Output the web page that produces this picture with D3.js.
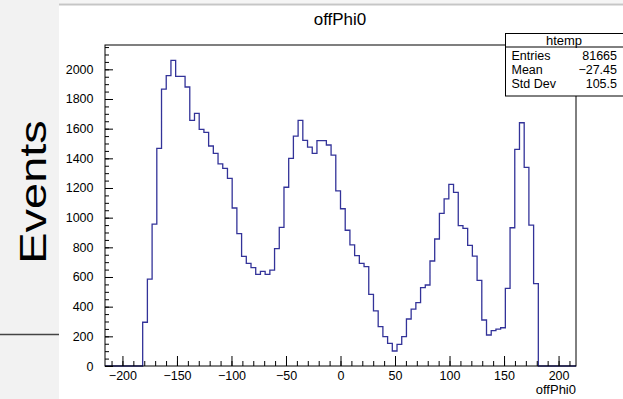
<!DOCTYPE html>
<html>
<head>
<meta charset="utf-8">
<script src="https://cdn.jsdelivr.net/npm/d3@7"></script>
<style>
  html, body { margin: 0; padding: 0; background: #fff; }
  svg { display: block; font-family: "Liberation Sans", Arial, Helvetica, sans-serif; }
</style>
</head>
<body>
<div id="chart"></div>
<script>
// histogram htemp : 100 bins over [-216, 216]
const histRange = [-216, 216];
const nBins = 100;
const counts = [
  0, 0, 0, 0, 0, 0, 0, 0,
  295, 586, 957, 1467, 1867, 1957, 2060, 1953, 1953, 1881,
  1656, 1703, 1595, 1575, 1483, 1434, 1362, 1332, 1265, 1065,
  892, 739, 692, 663, 618, 638, 618, 647, 791, 935,
  1205, 1400, 1550, 1656, 1521, 1476, 1434, 1519, 1519, 1490,
  1422, 1180, 1060, 915, 816, 744, 692, 670, 483, 371,
  265, 198, 153, 101, 146, 198, 317, 384, 427, 528,
  546, 708, 856, 1029, 1126, 1225, 1171, 946, 928, 813,
  741, 577, 310, 209, 238, 249, 258, 523, 932, 1461,
  1640, 1339, 950, 555,
  0, 0, 0, 0, 0, 0, 0, 0
];
const yMax = 2164;
const xMajorTicks = [-200, -150, -100, -50, 0, 50, 100, 150, 200];
const xMinorTicks = d3.range(-210, 211, 10);
const yMajorTicks = [0, 200, 400, 600, 800, 1000, 1200, 1400, 1600, 1800, 2000];
const yMinorTicks = d3.range(0, 2151, 50);
const statsLabels = ['Entries', 'Mean', 'Std Dev'];
const statsValues = ['81665', '\u221227.45', '105.5'];

const width = 623;
const height = 399;
const frame = { left: 105, right: 576, top: 45, bottom: 366 };
const lineColor = '#333399';
const fmt = d => (d < 0 ? '\u2212' + Math.abs(d) : String(d));

const svg = d3.select('#chart').append('svg')
  .attr('width', width)
  .attr('height', height);

// canvas background bits
svg.append('rect').attr('x', 0).attr('y', 0).attr('width', 59).attr('height', height).attr('fill', '#f2f2f2');
svg.append('rect').attr('x', 59).attr('y', 0).attr('width', width - 59).attr('height', 3.5).attr('fill', '#f5f5f5');
svg.append('line').attr('x1', 59).attr('x2', width).attr('y1', 4.5).attr('y2', 4.5)
  .attr('stroke', '#c6c6c6').attr('stroke-width', 2);
svg.append('line').attr('x1', 0).attr('x2', 59).attr('y1', 334.5).attr('y2', 334.5)
  .attr('stroke', '#444').attr('stroke-width', 1.5);

svg.append('text')
  .attr('transform', 'translate(46,192) scale(0.8,1) rotate(-90)')
  .attr('text-anchor', 'middle')
  .attr('font-size', 47)
  .text('Events');

const x = d3.scaleLinear().domain(histRange).range([frame.left, frame.right]);
const y = d3.scaleLinear().domain([0, yMax]).range([frame.bottom, frame.top]);
const binWidth = (histRange[1] - histRange[0]) / nBins;

// histogram outline
const pts = [];
counts.forEach((c, i) => {
  const x0 = histRange[0] + i * binWidth;
  pts.push([x0, c], [x0 + binWidth, c]);
});
const line = d3.line().x(d => x(d[0])).y(d => y(d[1]));

svg.append('path')
  .datum(pts)
  .attr('d', line)
  .attr('fill', 'none')
  .attr('stroke', lineColor)
  .attr('stroke-width', 1.3);

// axes, ticks drawn inside the frame
const xMinor = svg.append('g')
  .attr('transform', `translate(0,${frame.bottom})`)
  .call(d3.axisBottom(x).tickValues(xMinorTicks).tickSize(-5).tickSizeOuter(0).tickFormat(''));
const xMajor = svg.append('g')
  .attr('transform', `translate(0,${frame.bottom})`)
  .call(d3.axisBottom(x).tickValues(xMajorTicks).tickSize(-10).tickSizeOuter(0).tickPadding(5).tickFormat(fmt));
const yMinor = svg.append('g')
  .attr('transform', `translate(${frame.left},0)`)
  .call(d3.axisLeft(y).tickValues(yMinorTicks).tickSize(-4).tickSizeOuter(0).tickFormat(''));
const yMajor = svg.append('g')
  .attr('transform', `translate(${frame.left},0)`)
  .call(d3.axisLeft(y).tickValues(yMajorTicks).tickSize(-8).tickSizeOuter(0).tickPadding(11.5).tickFormat(d3.format('d')));

[xMinor, xMajor, yMinor, yMajor].forEach(g => {
  g.select('.domain').remove();
  g.selectAll('line').attr('stroke', '#000');
});
[xMajor, yMajor].forEach(g => {
  g.selectAll('text')
    .attr('font-size', 12.5)
    .attr('font-family', '"Liberation Sans", Arial, sans-serif')
    .attr('fill', '#000');
});

// frame
svg.append('rect')
  .attr('x', frame.left).attr('y', frame.top)
  .attr('width', frame.right - frame.left).attr('height', frame.bottom - frame.top)
  .attr('fill', 'none').attr('stroke', '#000').attr('stroke-width', 1);

svg.append('text')
  .attr('x', 340).attr('y', 25)
  .attr('text-anchor', 'middle')
  .attr('font-size', 17)
  .text('offPhi0');

svg.append('text')
  .attr('x', frame.right).attr('y', 394)
  .attr('text-anchor', 'end')
  .attr('font-size', 13)
  .text('offPhi0');

// stats box
const stats = svg.append('g');
stats.append('rect')
  .attr('x', 505.5).attr('y', 33.5).attr('width', 118).attr('height', 62.5)
  .attr('fill', '#fff').attr('stroke', '#000');
stats.append('line')
  .attr('x1', 505.5).attr('x2', width).attr('y1', 47).attr('y2', 47)
  .attr('stroke', '#000');
stats.append('text')
  .attr('x', 564).attr('y', 44.5)
  .attr('text-anchor', 'middle')
  .attr('font-size', 13)
  .text('htemp');
stats.selectAll('.lab')
  .data(statsLabels)
  .join('text')
  .attr('x', 511.5).attr('y', (d, i) => 60 + i * 14)
  .attr('font-size', 12.5)
  .text(d => d);
stats.selectAll('.val')
  .data(statsValues)
  .join('text')
  .attr('x', 617).attr('y', (d, i) => 60 + i * 14)
  .attr('text-anchor', 'end')
  .attr('font-size', 12.5)
  .text(d => d);
</script>
</body>
</html>
